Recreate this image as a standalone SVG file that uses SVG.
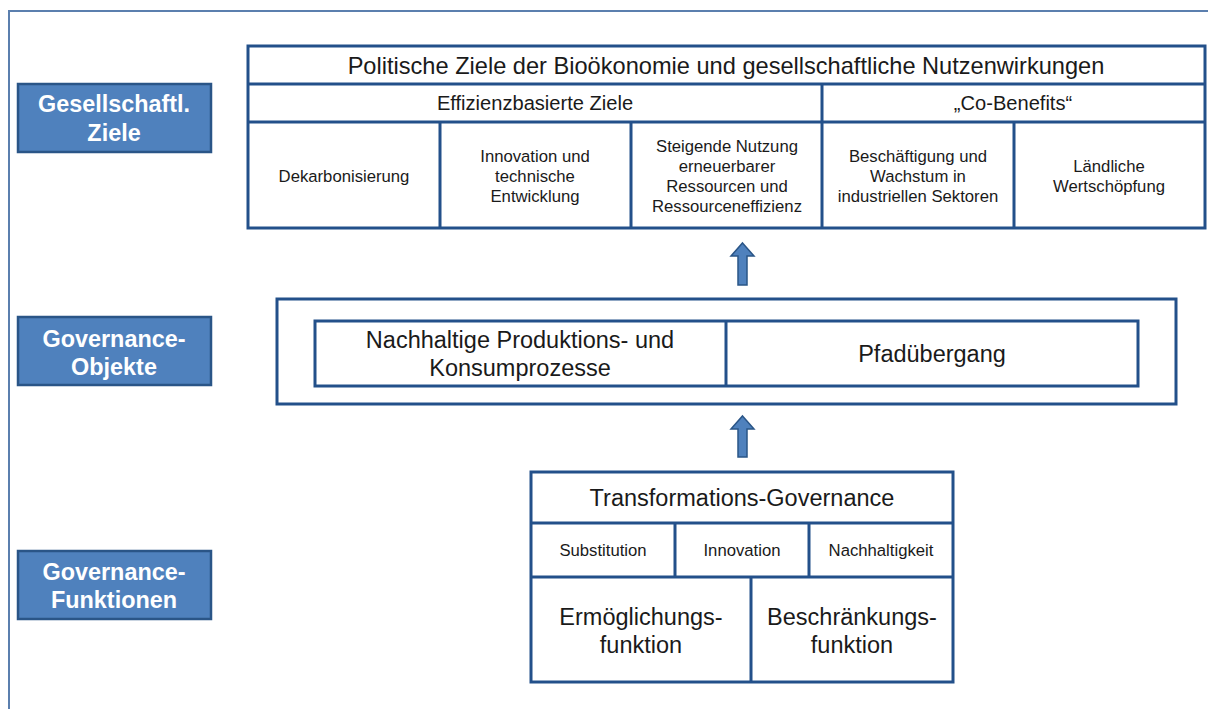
<svg xmlns="http://www.w3.org/2000/svg" width="1208" height="709" viewBox="0 0 1208 709">
<style>
  .frame{fill:none;stroke:#5b7fae;stroke-width:2}
  .cell{fill:#fff;stroke:#23508a;stroke-width:3}
  .div{stroke:#23508a;stroke-width:3;fill:none}
  .lab{fill:#4f81bd;stroke:#2a5587;stroke-width:2.5}
  .labt{font-family:"Liberation Sans",Arial,sans-serif;font-weight:bold;font-size:23.4px;fill:#fff;text-anchor:middle}
  .t{font-family:"Liberation Sans",Arial,sans-serif;fill:#1a1a1a;text-anchor:middle}
  .big{font-size:23.5px}
  .ttl{font-size:23.6px}
  .mid{font-size:20.1px}
  .sm{font-size:16.7px}
  .arrow{fill:#4f81bd;stroke:#2a5587;stroke-width:1.5}
</style>
<rect width="1208" height="709" fill="#fff"/>
<path class="frame" d="M9 709 V11 H1208"/>

<g id="label-gesellschaftl">
  <rect class="lab" x="18" y="84" width="193" height="68"/>
  <text class="labt" x="114" y="112">Gesellschaftl.</text>
  <text class="labt" x="114" y="141">Ziele</text>
</g>
<g id="label-objekte">
  <rect class="lab" x="18" y="317" width="193" height="68"/>
  <text class="labt" x="114" y="347">Governance-</text>
  <text class="labt" x="114" y="375">Objekte</text>
</g>
<g id="label-funktionen">
  <rect class="lab" x="18" y="551" width="193" height="68"/>
  <text class="labt" x="114" y="580">Governance-</text>
  <text class="labt" x="114" y="608">Funktionen</text>
</g>

<g id="ziele">
  <rect class="cell" x="248" y="46" width="957" height="182"/>
  <path class="div" d="M248 84 H1205 M248 122 H1205 M822 84 V228 M440 122 V228 M631 122 V228 M1014 122 V228"/>
  <text class="t ttl" x="726" y="74">Politische Ziele der Bioökonomie und gesellschaftliche Nutzenwirkungen</text>
  <text class="t mid" x="535" y="110">Effizienzbasierte Ziele</text>
  <text class="t mid" x="1013" y="110">„Co-Benefits“</text>
  <text class="t sm" x="344" y="182">Dekarbonisierung</text>
  <text class="t sm" x="535" y="162">Innovation und</text>
  <text class="t sm" x="535" y="182">technische</text>
  <text class="t sm" x="535" y="202">Entwicklung</text>
  <text class="t sm" x="727" y="152">Steigende Nutzung</text>
  <text class="t sm" x="727" y="172">erneuerbarer</text>
  <text class="t sm" x="727" y="192">Ressourcen und</text>
  <text class="t sm" x="727" y="212">Ressourceneffizienz</text>
  <text class="t sm" x="918" y="162">Beschäftigung und</text>
  <text class="t sm" x="918" y="182">Wachstum in</text>
  <text class="t sm" x="918" y="202">industriellen Sektoren</text>
  <text class="t sm" x="1109" y="172">Ländliche</text>
  <text class="t sm" x="1109" y="192">Wertschöpfung</text>
</g>

<g id="objekte">
  <rect class="cell" x="277" y="299" width="899" height="105"/>
  <rect class="cell" x="315" y="321" width="823" height="65"/>
  <path class="div" d="M726 321 V386"/>
  <text class="t big" x="520" y="348">Nachhaltige Produktions- und</text>
  <text class="t big" x="520" y="376">Konsumprozesse</text>
  <text class="t big" x="932" y="362">Pfadübergang</text>
</g>

<g id="funktionen">
  <rect class="cell" x="531" y="472" width="422" height="210"/>
  <path class="div" d="M531 523 H953 M531 577 H953 M675 523 V577 M809 523 V577 M751 577 V682"/>
  <text class="t big" x="742" y="506">Transformations-Governance</text>
  <text class="t sm" x="603" y="556">Substitution</text>
  <text class="t sm" x="742" y="556">Innovation</text>
  <text class="t sm" x="881" y="556">Nachhaltigkeit</text>
  <text class="t big" x="641" y="625">Ermöglichungs-</text>
  <text class="t big" x="641" y="653">funktion</text>
  <text class="t big" x="852" y="625">Beschränkungs-</text>
  <text class="t big" x="852" y="653">funktion</text>
</g>

<g id="connectors">
  <path class="arrow" d="M742.5 243 L754 256 H747 V285 H738 V256 H731 Z"/>
  <path class="arrow" d="M742.5 416 L754 429 H747 V457 H738 V429 H731 Z"/>
</g>
</svg>
